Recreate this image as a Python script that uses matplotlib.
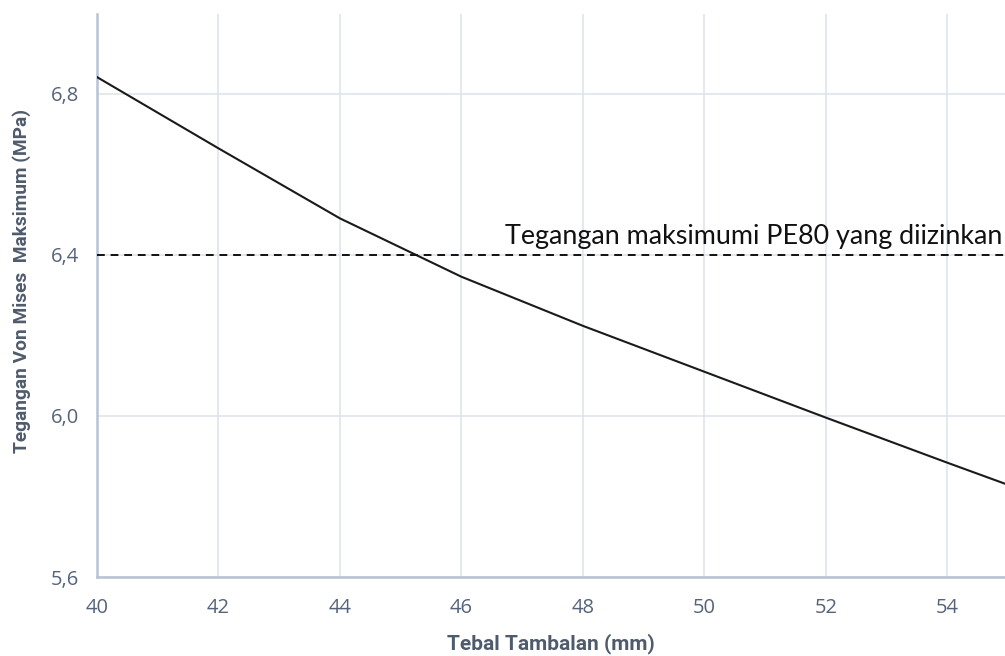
import numpy as np
import matplotlib.pyplot as plt

# data
tebal = [40, 42, 44, 46, 48, 50, 52, 54, 55]
tegangan = [6.842, 6.665, 6.491, 6.346, 6.224, 6.110, 5.996, 5.884, 5.829]
batas = 6.4
batas_label = 'Tegangan maksimumi PE80 yang diizinkan'
xticks = [40, 42, 44, 46, 48, 50, 52, 54]
yticks = [5.6, 6.0, 6.4, 6.8]

axis_col = '#b7c2d2'
grid_col = '#dfe4ec'
text_col = '#56637a'
title_col = '#4f5b6d'

fig = plt.figure(figsize=(10.05, 6.56), dpi=100)
ax = fig.add_axes([97 / 1005, 1 - 577 / 656, 1 - 97 / 1005, (577 - 13.5) / 656])

ax.plot(tebal, tegangan, color='#1a1a1a', lw=1.5, zorder=3)
ax.axhline(batas, color='#111111', lw=1.4, ls=(0, (4, 3)), zorder=3)
ax.text(54.9, batas + 0.015, batas_label, ha='right', va='bottom',
        fontsize=19.4, family=['Lato', 'DejaVu Sans'], color='#111111')

ax.set_xlim(40, 54.95)
ax.set_ylim(5.6, 7.0)
ax.set_xticks(xticks)
ax.set_yticks(yticks)
ax.set_xticklabels([str(v) for v in xticks], family=['Open Sans', 'DejaVu Sans'])
ax.set_yticklabels([f'{v:.1f}'.replace('.', ',') for v in yticks], family=['Open Sans', 'DejaVu Sans'])
ax.grid(True, color=grid_col, lw=1.2)
ax.set_axisbelow(True)

for s in ['top', 'right']:
    ax.spines[s].set_visible(False)
for s in ['left', 'bottom']:
    ax.spines[s].set_color(axis_col)
    ax.spines[s].set_linewidth(1.8)

ax.tick_params(length=0, colors=text_col, labelsize=14.5)
ax.tick_params(axis='y', pad=13)
ax.tick_params(axis='x', pad=15)

ax.set_xlabel('Tebal Tambalan (mm)', fontsize=15, fontweight='bold', color=title_col,
              family=['Roboto', 'DejaVu Sans'], labelpad=11)
ax.set_ylabel('Tegangan Von Mises  Maksimum (MPa)', fontsize=13.8, fontweight='bold', color=title_col,
              family=['Roboto', 'DejaVu Sans'])
ax.yaxis.set_label_coords(-0.0725, (577 - 281) / (577 - 13.5))

fig.savefig('out.png', dpi=100)
